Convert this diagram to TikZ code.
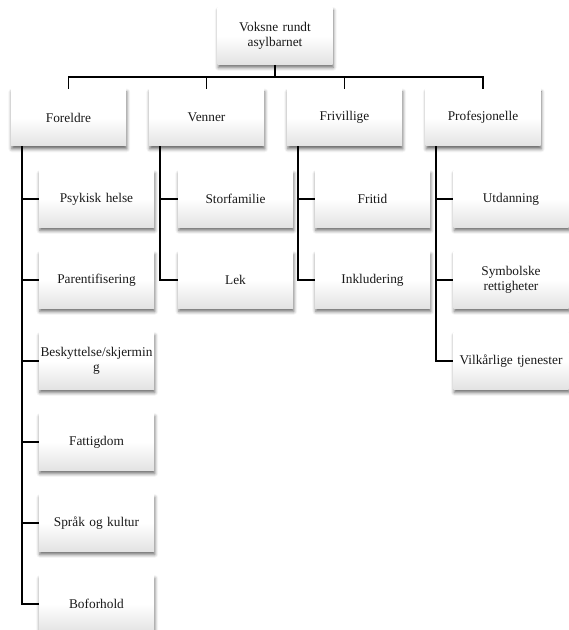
\documentclass[tikz,border=0pt]{standalone}
\usepackage{fontspec}
\setmainfont{Liberation Serif}
\usetikzlibrary{shadows.blur}

\begin{document}
\begin{tikzpicture}[x=0.75pt,y=-0.75pt,
    box/.style={rectangle,top color=white,bottom color=black!11,middle color=white,
      blur shadow={shadow xshift=0.6pt,shadow yshift=-2.2pt,shadow blur radius=2.5pt,
        shadow opacity=60,shadow scale=1.0},
      minimum width=86.25pt,minimum height=42.75pt,inner sep=0pt,
      text width=85pt,align=center,font=\fontsize{10}{11}\selectfont,text=black!90},
    link/.style={line width=1.2pt}]
  \useasboundingbox (0,0) rectangle (568,630);
  % top and first level
  \node[box] (top) at (275,36) {Voksne rundt\\asylbarnet};
  \node[box] (fo) at (68.5,117.5) {Foreldre};
  \node[box] (ve) at (206.5,117.5) {Venner};
  \node[box] (fr) at (344.5,117.5) {Frivillige};
  \node[box] (pr) at (483,117.5) {Profesjonelle};
  % Foreldre
  \node[box] (f1) at (96.5,199) {Psykisk helse};
  \node[box] (f2) at (96.5,280) {Parentifisering};
  \node[box] (f3) at (96.5,361) {Beskyttelse/skjermin\\g};
  \node[box] (f4) at (96.5,442) {Fattigdom};
  \node[box] (f5) at (96.5,523) {Språk og kultur};
  \node[box] (f6) at (96.5,604) {Boforhold};
  % Venner
  \node[box] (v1) at (235.5,199) {Storfamilie};
  \node[box] (v2) at (235.5,280) {Lek};
  % Frivillige
  \node[box] (r1) at (372.5,199) {Fritid};
  \node[box] (r2) at (372.5,280) {Inkludering};
  % Profesjonelle
  \node[box] (p1) at (511,199) {Utdanning};
  \node[box] (p2) at (511,280) {Symbolske\\rettigheter};
  \node[box] (p3) at (511,361) {Vilkårlige tjenester};

  \coordinate (bus) at (275,77);
  \draw[link] (top.south) -- (bus);
  \draw[link] (fo.north) |- (bus) -| (pr.north);
  \draw[link] (ve.north) -- (ve.north |- bus);
  \draw[link] (fr.north) -- (fr.north |- bus);

  \foreach \k in {1,...,6}
    \draw[link] (fo.south west) ++(11,0) |- (f\k.west);
  \foreach \k in {1,2}{
    \draw[link] (ve.south west) ++(11,0) |- (v\k.west);
    \draw[link] (fr.south west) ++(11,0) |- (r\k.west);
  }
  \foreach \k in {1,2,3}
    \draw[link] (pr.south west) ++(11,0) |- (p\k.west);
\end{tikzpicture}
\end{document}
